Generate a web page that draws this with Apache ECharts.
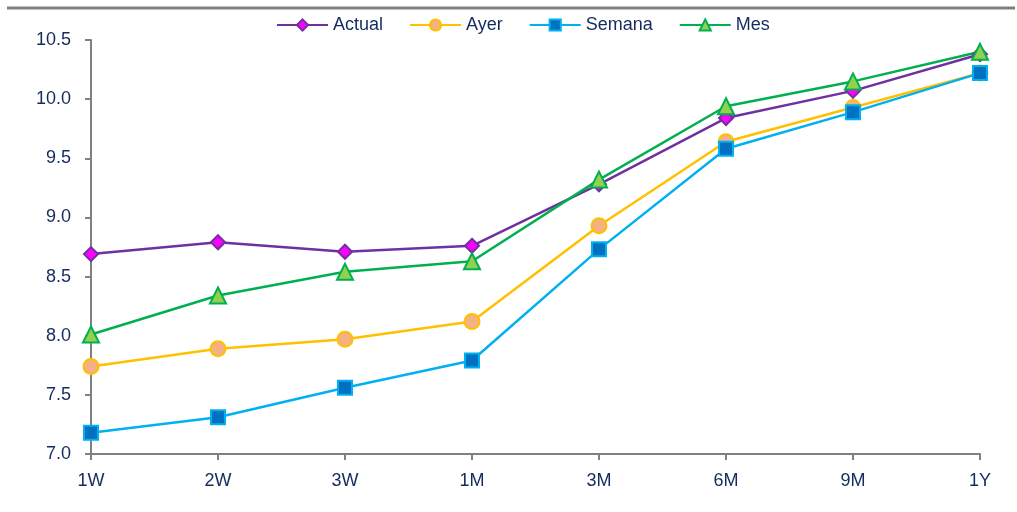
<!DOCTYPE html>
<html>
<head>
<meta charset="utf-8">
<script src="https://cdn.jsdelivr.net/npm/echarts@6/dist/echarts.min.js"></script>
<style>
html,body{margin:0;padding:0;background:#fff;}
#c{width:1017px;height:512px;}
</style>
</head>
<body>
<div id="c"></div>
<script>
const categories = ['1W','2W','3W','1M','3M','6M','9M','1Y'];
const actual = [8.69, 8.79, 8.71, 8.76, 9.28, 9.84, 10.07, 10.38];
const ayer   = [7.74, 7.89, 7.97, 8.12, 8.93, 9.64, 9.93, 10.22];
const semana = [7.18, 7.31, 7.56, 7.79, 8.73, 9.58, 9.89, 10.22];
const mes    = [8.01, 8.34, 8.54, 8.63, 9.32, 9.94, 10.15, 10.40];
const yTicks = {min: 7.0, max: 10.5, interval: 0.5};

const textColor = '#142B5E';
const font = 'Liberation Sans';

function s(name, data, lineColor, fillColor, symbol, size) {
  return {
    name, type: 'line', data, symbol, symbolSize: size,
    lineStyle: {color: lineColor, width: 2.5},
    itemStyle: {color: fillColor, borderColor: lineColor, borderWidth: 2},
    emphasis: {disabled: true}
  };
}

const chart = echarts.init(document.getElementById('c'), null, {renderer: 'canvas'});
chart.setOption({
  animation: false,
  backgroundColor: '#fff',
  graphic: [{
    type: 'line', shape: {x1: 7, y1: 8, x2: 1015, y2: 8},
    style: {stroke: '#808080', lineWidth: 3}
  }],
  legend: {
    top: 11, left: 271,
    itemWidth: 51, itemHeight: 14, itemGap: 26,
    textStyle: {color: textColor, fontSize: 18, fontFamily: font},
    data: ['Actual','Ayer','Semana','Mes']
  },
  grid: {left: 91, right: 37, top: 40, bottom: 58},
  xAxis: {
    type: 'category', data: categories, boundaryGap: false,
    axisLine: {lineStyle: {color: '#808080', width: 2}},
    axisTick: {show: true, length: 6, lineStyle: {color: '#808080', width: 2}},
    axisLabel: {color: textColor, fontSize: 18, fontFamily: font, margin: 18}
  },
  yAxis: {
    type: 'value', min: yTicks.min, max: yTicks.max, interval: yTicks.interval,
    splitLine: {show: false},
    axisLine: {show: true, lineStyle: {color: '#808080', width: 2}},
    axisTick: {show: true, length: 6, lineStyle: {color: '#808080', width: 2}},
    axisLabel: {color: textColor, fontSize: 18, fontFamily: font, margin: 20,
      formatter: v => v.toFixed(1)}
  },
  series: [
    s('Actual', actual, '#7030A0', '#FF00FF', 'diamond', 14),
    s('Ayer', ayer, '#FFC000', '#F4B183', 'circle', 15),
    s('Semana', semana, '#00B0F0', '#0070C0', 'rect', 14),
    s('Mes', mes, '#00B050', '#92D050', 'triangle', 16)
  ]
});
</script>
</body>
</html>
